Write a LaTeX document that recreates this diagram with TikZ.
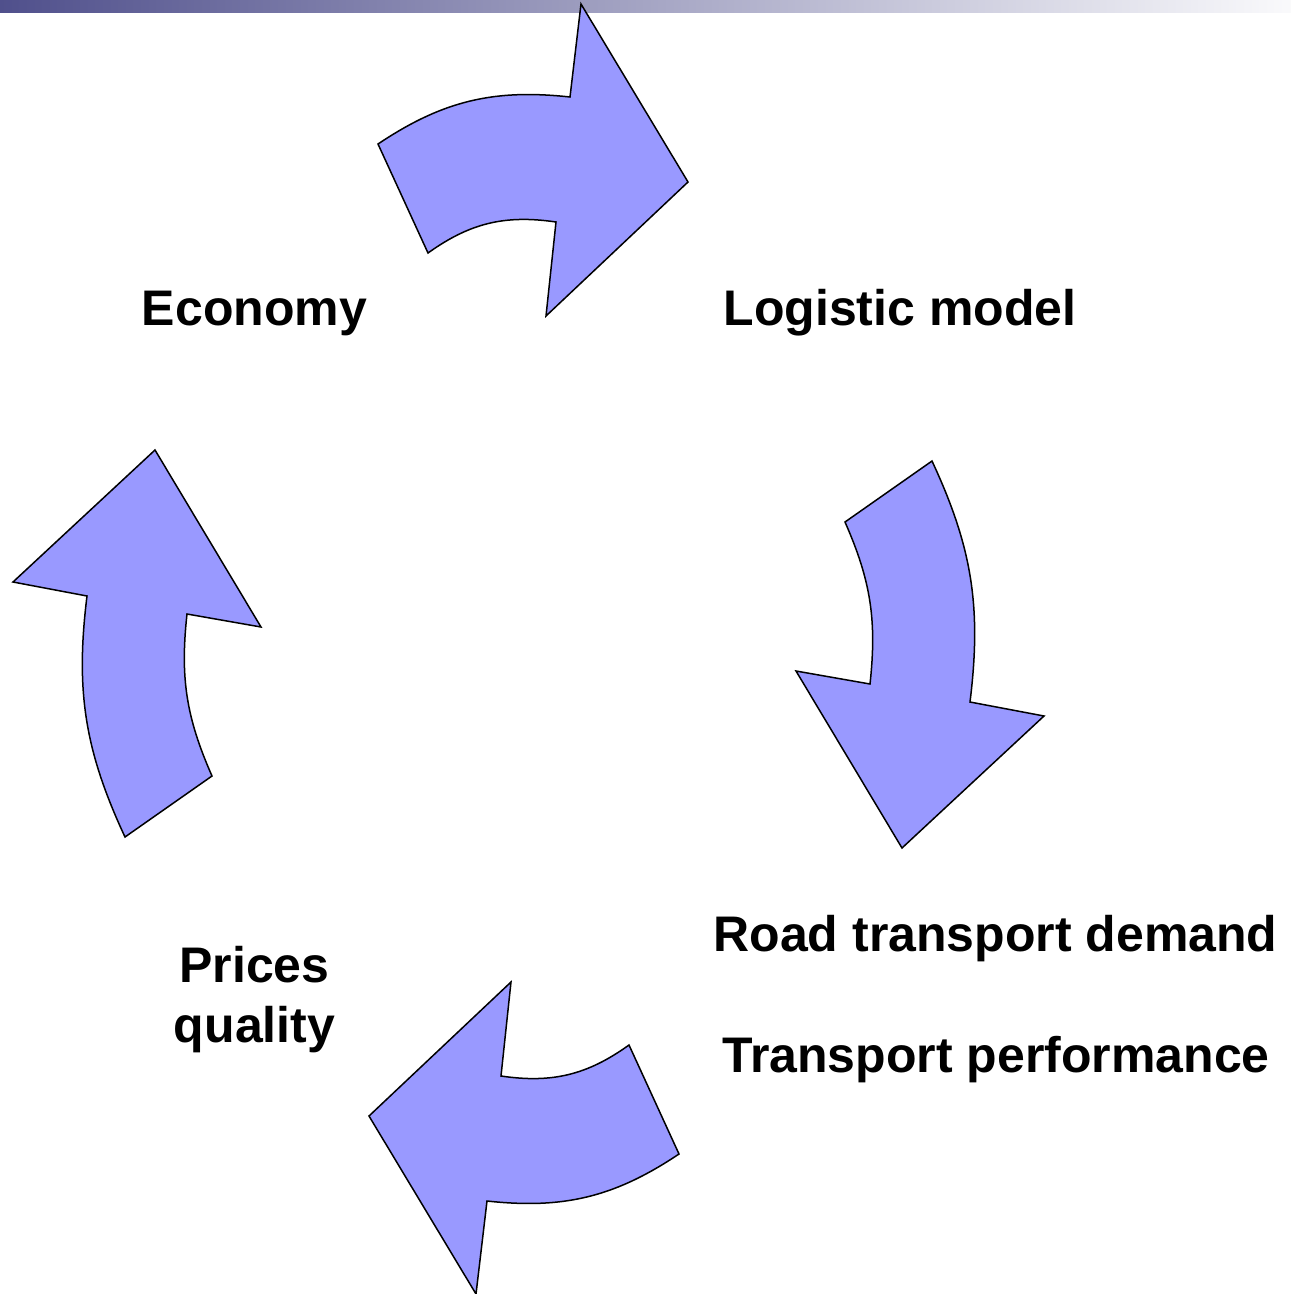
\documentclass[tikz,border=0pt]{standalone}
\usepackage{fontspec}
\setmainfont{Liberation Sans}
\definecolor{arrowblue}{RGB}{153,153,255}
\definecolor{barblue}{RGB}{80,80,140}

\begin{document}
\begin{tikzpicture}[x=1pt,y=-1pt]
\tikzset{
mylabel/.style={font=\fontsize{50}{60}\selectfont\bfseries, inner sep=0pt, anchor=base},
bigarrow/.style={draw=black, fill=arrowblue, line width=1.5pt},
topbar/.style={left color=barblue, right color=white!97!barblue},
}
\useasboundingbox (0,0) rectangle (1291,1294);
\shade[topbar] (0,0) rectangle (1291,12.5);

% four curved arrows of the cycle
\draw[bigarrow] (378,144) to[bend left=20] (570,97) -- (581,4) -- (688,182) -- (546,316) -- (556,222) to[bend right=22] (428,253) -- cycle;
\draw[bigarrow] (932,461) -- (845,522) to[bend left=15] (870,684) -- (796,671) -- (902,848) -- (1044,716) -- (970,702) to[bend right=16] (932,461) -- cycle;
\draw[bigarrow] (679,1154) to[bend left=20] (487,1201) -- (476,1294) -- (369,1116) -- (511,982) -- (501,1076) to[bend right=22] (629,1045) -- cycle;
\draw[bigarrow] (125,837) -- (212,776) to[bend left=15] (187,614) -- (261,627) -- (155,450) -- (13,582) -- (87,596) to[bend right=16] (125,837) -- cycle;

\node[mylabel] (economy) at (254.5,325) {Economy};
\node[mylabel] (logistic) at (900,325) {Logistic model};
\node[mylabel, anchor=center, align=center] (prices) at (254.5,1000) {Prices\\quality};
\node[mylabel] (demand) at (995.5,951) {Road transport demand};
\node[mylabel] (performance) at (996,1072) {Transport performance};
\end{tikzpicture}
\end{document}
